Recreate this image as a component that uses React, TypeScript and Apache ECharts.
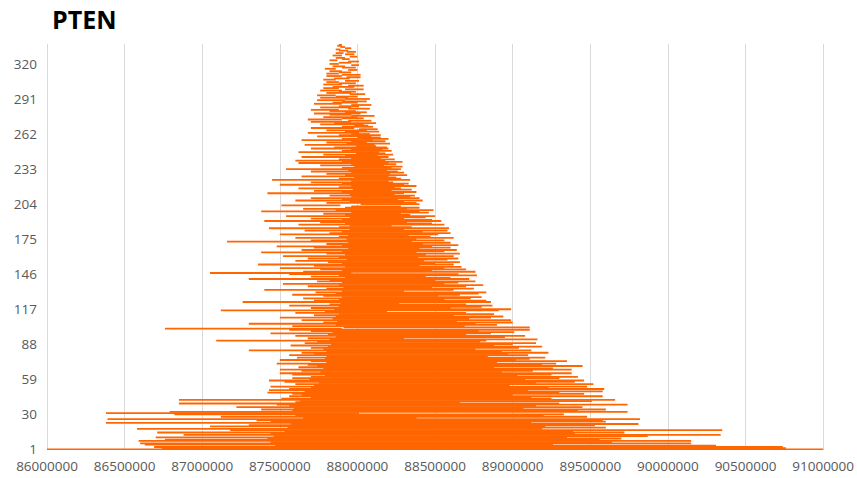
import React, { useEffect, useRef } from "react";
import * as echarts from "echarts";

// Bar start / end positions in kb (row 1 at index 0)
const startKb = [
  86000, 86740, 86690, 87470, 86630, 86600, 87440, 86590, 86760, 87420,
  86700, 87460, 86880, 87440, 86710, 87530, 87180, 86580, 87550, 87050,
  87300, 87570, 86380, 87440, 87350, 86390, 87650, 87120, 87600, 86820,
  86380, 86790, 87580, 87380, 87590, 87220, 87560, 87480, 86850, 87600,
  87630, 86850, 87510, 87700, 87560, 87640, 87580, 87420, 87660, 87430,
  87560, 87700, 87440, 87720, 87600, 87750, 87530, 87430, 87690, 87580,
  87700, 87790, 87580, 87500, 87760, 87640, 87500, 87780, 87620, 87740,
  87680, 87480, 87800, 87700, 87500, 87790, 87610, 87800, 87560, 87720,
  87640, 87800, 87300, 87780, 87700, 87810, 87570, 87830, 87660, 87740,
  87090, 87820, 87680, 87860, 87600, 87810, 87440, 87840, 87700, 87560,
  86760, 87910, 87580, 87860, 87300, 87780, 87870, 87640, 87840, 87500,
  87860, 87720, 87880, 87600, 87790, 87120, 87850, 87700, 87880, 87560,
  87820, 87890, 87260, 87720, 87880, 87650, 87900, 87780, 87580, 87860,
  87730, 87900, 87400, 87800, 87910, 87680, 87880, 87520, 87900, 87740,
  87820, 87300, 87920, 87700, 87880, 87560, 87050, 87650, 87900, 87760,
  87500, 87920, 87720, 87360, 87900, 87810, 87600, 87930, 87680, 87880,
  87520, 87920, 87800, 87380, 87900, 87640, 87940, 87720, 87480, 87900,
  87800, 87940, 87160, 87700, 87930, 87600, 87880, 87940, 87500, 87820,
  87900, 87660, 87950, 87430, 87880, 87950, 87620, 87920, 87760, 87400,
  87900, 87700, 87950, 87540, 87920, 87780, 87960, 87380, 87860, 87650,
  87920, 87960, 87510, 88020, 87800, 87950, 87600, 87900, 87700, 87960,
  87820, 87950, 87420, 87900, 87720, 87970, 87620, 87880, 87960, 87500,
  87900, 87700, 87960, 87450, 87880, 87980, 87640, 87920, 87800, 87960,
  87700, 87940, 87540, 87900, 87980, 87760, 87960, 87620, 87900, 87600,
  87880, 87960, 87640, 87920, 87780, 87990, 87620, 87900, 87960, 87700,
  87850, 87990, 87660, 87930, 87800, 87960, 87640, 87900, 88000, 87740,
  87880, 87960, 87680, 87920, 87800, 88010, 87700, 87900, 87980, 87760,
  87850, 87700, 87940, 87680, 87900, 87780, 87960, 87820, 87720, 87920,
  87820, 87700, 87940, 87760, 87880, 87960, 87720, 87840, 87900, 87740,
  87920, 87760, 87860, 87740, 87950, 87800, 87880, 87760, 87920, 87780,
  87840, 87940, 87780, 87880, 87800, 87920, 87780, 87850, 87930, 87800,
  87900, 87800, 87880, 87820, 87940, 87790, 87900, 87840, 87960, 87820,
  87880, 87940, 87820, 87900, 87860, 87950, 87840, 87920, 87860, 87930,
  87880, 87860, 87920, 87890, 87870, 87880,
];

const endKb = [
  91000, 90760, 90740, 90310, 89260, 90150, 89640, 90150, 89560, 89700,
  89350, 89870, 90340, 89400, 89720, 89390, 90350, 89190, 89600, 89210,
  89530, 89810, 89120, 89600, 89580, 89820, 88380, 89480, 89200, 89330,
  88010, 89740, 89420, 89600, 89070, 89450, 89150, 89740, 89300, 88660,
  89510, 89660, 89250, 89120, 89580, 89000, 89460, 89300, 89580, 89100,
  89590, 89230, 89480, 88980, 89520, 89150, 89400, 89460, 89080, 89300,
  89420, 89030, 89250, 89380, 88930, 89130, 89380, 89260, 88880, 89450,
  89190, 89280, 88900, 89350, 89020, 89110, 89210, 88840, 89100, 88970,
  89230, 88930, 89120, 88760, 89040, 89190, 88880, 89000, 89150, 88790,
  88830, 89160, 88300, 88950, 89080, 88700, 88860, 89010, 88780, 89110,
  87900, 89110, 88690, 88900, 88760, 89000, 88640, 88990, 88720, 88860,
  88940, 88620, 88880, 88700, 88190, 88910, 88990, 88600, 88800, 88870,
  88700, 88270, 88860, 88830, 88560, 88730, 88800, 88520, 88660, 88780,
  88830, 88300, 88620, 88750, 88480, 88700, 88810, 88560, 88650, 88760,
  88500, 88720, 88600, 88440, 88770, 88650, 87960, 88760, 88480, 88700,
  88560, 88670, 88400, 88620, 88500, 88660, 88430, 88580, 88650, 88390,
  88620, 88440, 88660, 88380, 88560, 88640, 88400, 88600, 88480, 88650,
  88420, 88600, 88350, 88560, 88380, 88620, 88470, 88330, 88520, 88600,
  88420, 88580, 88300, 88590, 88350, 88220, 88560, 88480, 88320, 88540,
  88480, 88300, 88440, 88500, 88340, 88280, 88460, 88400, 88490, 88320,
  88400, 88280, 87890, 88400, 88380, 88300, 88420, 88260, 88400, 88340,
  88370, 88240, 88300, 88380, 88220, 88350, 88280, 88240, 88380, 88300,
  88330, 88230, 88200, 88340, 88280, 88250, 88200, 88320, 88210, 88300,
  88260, 88190, 88280, 88220, 88290, 88170, 88250, 88200, 88290, 88180,
  88240, 88150, 88200, 88130, 88230, 88180, 88140, 88220, 88160, 88200,
  88190, 88120, 88110, 88210, 88060, 88180, 88100, 88200, 88150, 88090,
  88150, 88080, 88010, 88140, 88060, 88130, 87980, 88100, 88070, 88040,
  88120, 87960, 88090, 87900, 88040, 88000, 88110, 87960, 88020, 88060,
  87990, 87880, 88080, 87960, 88010, 88090, 87900, 88000, 88060, 87920,
  88080, 87940, 88000, 87860, 88050, 87960, 87990, 87900, 88040, 87880,
  87980, 88040, 87900, 87990, 87880, 88010, 87860, 87950, 88020, 87900,
  88020, 87880, 87960, 87900, 88000, 87860, 87990, 87920, 88010, 87880,
  87960, 88010, 87870, 87950, 87920, 88000, 87900, 87980, 87910, 87990,
  87940, 87890, 87960, 87920, 87900, 87900,
];

const categories = startKb.map((_, i) => String(i + 1));
const xMin = 86000000;
const xMax = 91000000;
const xStep = 500000;
const title = "PTEN";

export default function App() {
  const ref = useRef<HTMLDivElement>(null);
  useEffect(() => {
    if (!ref.current) return;
    const chart = echarts.init(ref.current, undefined, { renderer: "svg" });
    const base = startKb.map((s) => s * 1000);
    const len = startKb.map((s, i) => (endKb[i] - s) * 1000);
    const font = "'Open Sans', 'Noto Sans', sans-serif";
    chart.setOption({
      animation: false,
      backgroundColor: "#ffffff",
      title: {
        text: title,
        left: 47,
        top: 1,
        textStyle: { fontFamily: font, fontSize: 25, fontWeight: "bold", color: "#000000" },
      },
      grid: { left: 47, right: 31, top: 44, bottom: 28, containLabel: false },
      xAxis: {
        type: "value",
        min: xMin,
        max: xMax,
        interval: xStep,
        axisLine: { show: false },
        axisTick: { show: false },
        splitLine: { show: true, lineStyle: { color: "#d9d9d9", width: 1 } },
        axisLabel: {
          color: "#595959",
          fontFamily: font,
          fontSize: 13.5,
          lineHeight: 14,
          margin: 9,
          formatter: (v: number) => String(v),
        },
      },
      yAxis: {
        type: "category",
        data: categories,
        axisLine: { show: false },
        axisTick: { show: false },
        splitLine: { show: false },
        axisLabel: {
          interval: 28,
          color: "#595959",
          fontFamily: font,
          fontSize: 13.5,
          lineHeight: 12,
          margin: 10,
        },
      },
      series: [
        {
          type: "bar",
          stack: "range",
          data: base,
          barWidth: 1.8,
          itemStyle: { color: "rgba(0,0,0,0)" },
          silent: true,
        },
        {
          type: "bar",
          stack: "range",
          data: len,
          barWidth: 1.8,
          itemStyle: { color: "#FF6600" },
        },
      ],
    });
    return () => chart.dispose();
  }, []);
  return (
    <div
      ref={ref}
      style={{ position: "fixed", left: 0, top: 0, width: 857, height: 478 }}
    />
  );
}
